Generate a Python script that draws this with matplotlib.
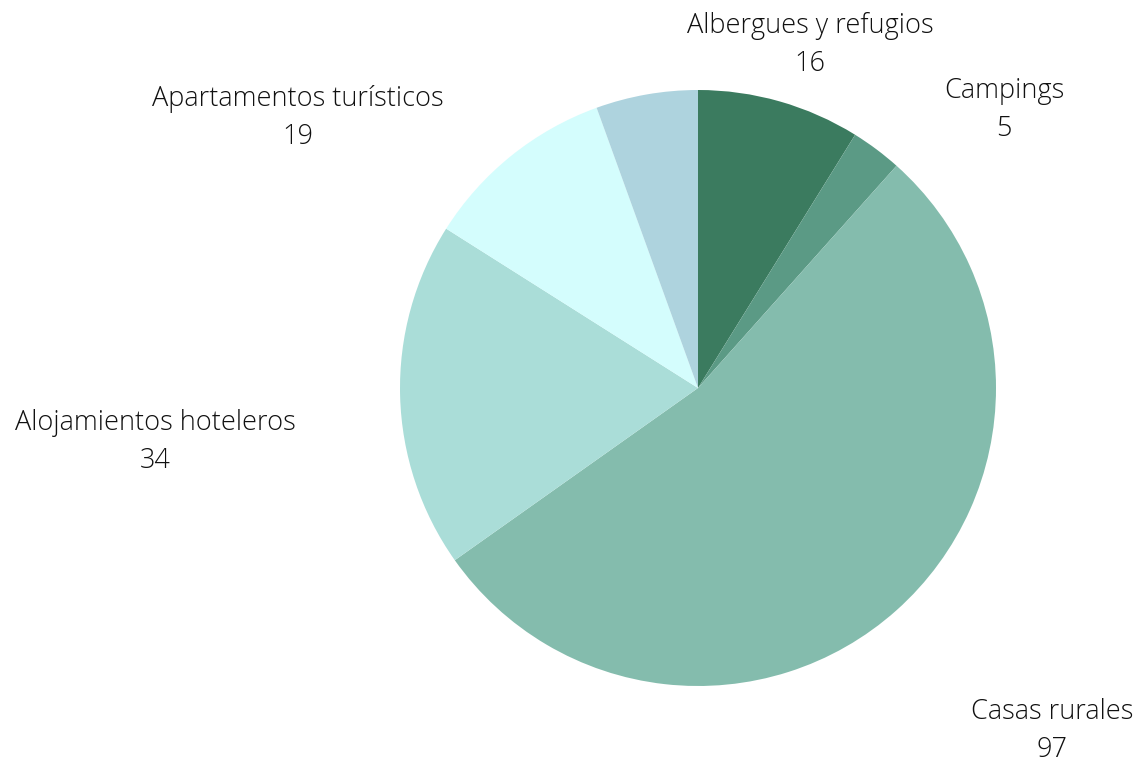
import matplotlib
matplotlib.use("Agg")
import matplotlib.pyplot as plt
import numpy as np

categories = ["Albergues y refugios", "Campings", "Casas rurales",
              "Alojamientos hoteleros", "Apartamentos turísticos", ""]
values = [16, 5, 97, 34, 19, 10]
colors = ["#3b7b5f", "#5b9a85", "#84bcad", "#aaddd8", "#d4fdfd", "#aed3de"]

# label centre positions (pixel coords, y from top) — layout only
label_pos = [(810, 45), (1004, 110), (1052, 731), (155, 442), (298, 118), None]

W, H = 1141, 764
fig = plt.figure(figsize=(W / 100, H / 100), dpi=100)
ax = fig.add_axes([0, 0, 1, 1])

cx, cy, r = 698, H - 388, 298
ax.pie(values, colors=colors, startangle=90, counterclock=False,
       center=(cx, cy), radius=r, frame=True,
       wedgeprops=dict(linewidth=0))
ax.set_xlim(0, W)
ax.set_ylim(0, H)
ax.set_aspect("equal")
ax.axis("off")

for cat, val, pos in zip(categories, values, label_pos):
    if pos is None or not cat:
        continue
    x, yc = pos
    ax.text(x, H - yc, f"{cat}\n{val}", ha="center", va="center",
            fontsize=19.5, family="Open Sans", fontweight="light", color="#111111",
            linespacing=1.45)

fig.savefig("out.png", dpi=100)
